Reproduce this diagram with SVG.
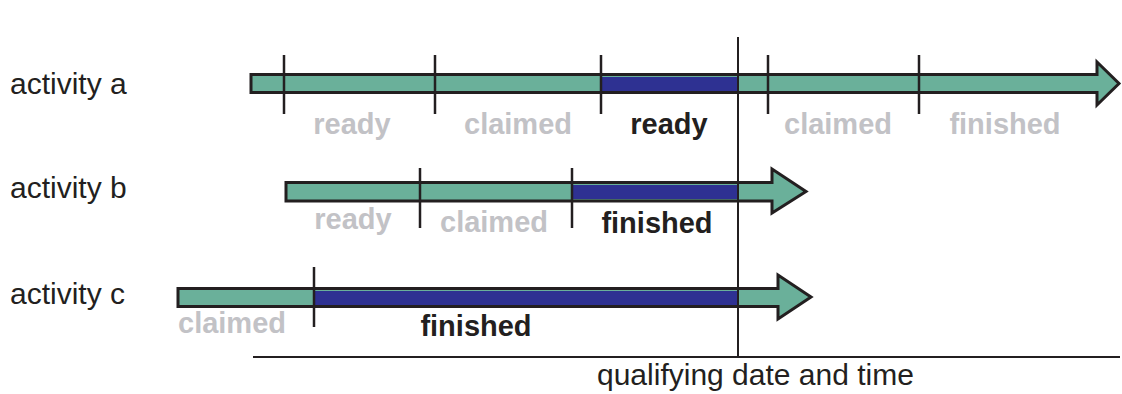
<svg xmlns="http://www.w3.org/2000/svg" width="1122" height="394" viewBox="0 0 1122 394">
<style>
.bar{fill:#6AB09A;stroke:#231F20;stroke-width:3;stroke-linejoin:miter}
.blue{fill:#2E3192}
.tick{stroke:#231F20;stroke-width:2.5}
.axis{stroke:#231F20;stroke-width:2}
.lbl{font-family:"Liberation Sans",Arial,sans-serif;font-size:30px;fill:#231F20}
.st{font-family:"Liberation Sans",Arial,sans-serif;font-size:29px;font-weight:bold;text-anchor:middle}
.g{fill:#C2C2C6}
.k{fill:#231F20}
</style>
<rect width="1122" height="394" fill="#fff"/>
<g id="activity-a">
<text class="lbl" x="10" y="94">activity a</text>
<polygon class="bar" points="251,74.5 1097,74.5 1097,62 1119,83.5 1097,105 1097,92.5 251,92.5"/>
<rect class="blue" x="601" y="77" width="136" height="14"/>
<line class="tick" x1="284" y1="55" x2="284" y2="114"/>
<line class="tick" x1="435" y1="55" x2="435" y2="114"/>
<line class="tick" x1="601" y1="55" x2="601" y2="114"/>
<line class="tick" x1="768" y1="55" x2="768" y2="114"/>
<line class="tick" x1="919" y1="55" x2="919" y2="114"/>
<text class="st g" x="352" y="134">ready</text>
<text class="st g" x="518" y="134">claimed</text>
<text class="st k" x="669" y="134">ready</text>
<text class="st g" x="838" y="134">claimed</text>
<text class="st g" x="1005" y="134">finished</text>
</g>
<g id="activity-b">
<text class="lbl" x="10" y="198">activity b</text>
<polygon class="bar" points="286,182.5 772,182.5 772,169 806,191.5 772,213 772,201 286,201"/>
<rect class="blue" x="572" y="185" width="165" height="14"/>
<line class="tick" x1="420" y1="168" x2="420" y2="228"/>
<line class="tick" x1="572" y1="168" x2="572" y2="228"/>
<text class="st g" x="353" y="229">ready</text>
<text class="st g" x="494" y="232">claimed</text>
<text class="st k" x="657" y="233">finished</text>
</g>
<g id="activity-c">
<text class="lbl" x="10" y="304">activity c</text>
<polygon class="bar" points="178,288.5 778,288.5 778,275 811,297 778,319 778,306.5 178,306.5"/>
<rect class="blue" x="314" y="291" width="423" height="14"/>
<line class="tick" x1="314" y1="267" x2="314" y2="327"/>
<text class="st g" x="232" y="333">claimed</text>
<text class="st k" x="476" y="336">finished</text>
</g>
<g id="connectors">
<line class="axis" x1="738" y1="37" x2="738" y2="357"/>
<line class="axis" x1="253" y1="357" x2="1120" y2="357"/>
</g>
<g id="axis-label">
<text class="lbl" x="597" y="385">qualifying date and time</text>
</g>
</svg>
